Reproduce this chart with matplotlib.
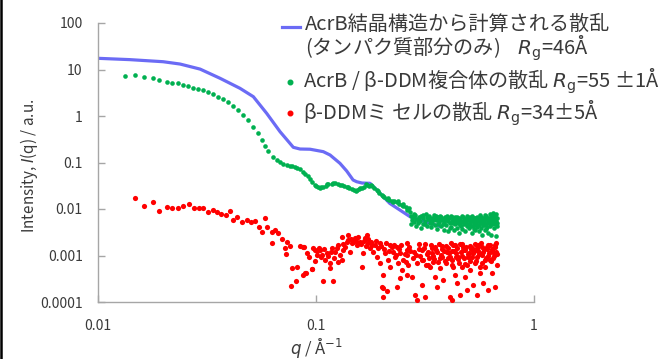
import matplotlib
matplotlib.use("Agg")
import matplotlib.pyplot as plt
from matplotlib.lines import Line2D

plt.rcParams['font.family'] = ['Noto Sans CJK JP', 'DejaVu Sans']
plt.rcParams['mathtext.fontset'] = 'dejavusans'

# ---- data ----
blue_q = [0.0100, 0.0140, 0.0199, 0.0238, 0.0294, 0.0363, 0.0448, 0.0516, 0.0594,
          0.0684, 0.0787, 0.0845, 0.0939, 0.108, 0.116, 0.1288, 0.1383, 0.148,
          0.1537, 0.1626, 0.177, 0.1966, 0.218, 0.270, 0.371]
blue_I = [17.4, 16.3, 14.7, 13.1, 10.2, 6.47, 3.94, 2.60, 1.14,
          0.46, 0.212, 0.195, 0.193, 0.171, 0.145, 0.096, 0.0656, 0.042,
          0.0386, 0.0362, 0.0357, 0.0218, 0.0132, 0.00683, 0.0042]

green_q = [0.0133, 0.0148, 0.0163, 0.0178, 0.0190, 0.0207, 0.0218, 0.0233, 0.0246,
           0.0260, 0.0274, 0.0288, 0.0304, 0.0321, 0.0338, 0.0356, 0.0376, 0.0396,
           0.0418, 0.0440, 0.0464, 0.0489, 0.0516, 0.0544, 0.0564, 0.0583, 0.0604,
           0.0637, 0.0660,
           0.0684, 0.0708, 0.0734, 0.0760, 0.0780, 0.0800, 0.0822, 0.0845, 0.0868,
           0.0890, 0.0915, 0.0939, 0.0962, 0.0989, 0.1005, 0.1024, 0.1050, 0.1080,
           0.1110, 0.1139, 0.1180, 0.1222, 0.1265, 0.1312, 0.1345, 0.1383, 0.1420,
           0.1458, 0.1495, 0.1537, 0.1580, 0.1621, 0.1665, 0.1708, 0.1755, 0.1801,
           0.1850, 0.1899, 0.1950, 0.2002, 0.2055, 0.2110, 0.2165, 0.2225, 0.2285,
           0.2345, 0.2410, 0.2470, 0.2514, 0.2580, 0.2651, 0.2700,
           0.1040, 0.1125, 0.1200, 0.1290, 0.1400, 0.1520, 0.1600, 0.1690, 0.1780,
           0.1920, 0.2030, 0.2140, 0.2250, 0.2380, 0.2500, 0.2620, 0.2680,
           0.272, 0.275, 0.279, 0.282, 0.286, 0.289, 0.293, 0.297, 0.300, 0.304,
           0.308, 0.311, 0.315, 0.319, 0.322, 0.326, 0.330, 0.333, 0.337, 0.341,
           0.344, 0.348, 0.352, 0.355, 0.359, 0.363, 0.366, 0.370, 0.374, 0.377,
           0.381, 0.385, 0.388, 0.392, 0.396, 0.399, 0.403, 0.407, 0.410, 0.414,
           0.418, 0.421, 0.425, 0.429, 0.432, 0.436, 0.440, 0.443, 0.447, 0.451,
           0.454, 0.458, 0.462, 0.465, 0.469, 0.473, 0.476, 0.480, 0.484, 0.487,
           0.491, 0.495, 0.498, 0.502, 0.506, 0.509, 0.513, 0.517, 0.520, 0.524,
           0.528, 0.531, 0.535, 0.539, 0.542, 0.546, 0.550, 0.553, 0.557, 0.561,
           0.564, 0.568, 0.572, 0.575, 0.579, 0.583, 0.586, 0.590, 0.594, 0.597,
           0.601, 0.605, 0.608, 0.612, 0.616, 0.619, 0.623, 0.627, 0.630, 0.634,
           0.638, 0.641, 0.645, 0.649, 0.652, 0.656, 0.660, 0.663, 0.667, 0.671,
           0.674, 0.676,
           0.274, 0.281, 0.288, 0.295, 0.302, 0.310, 0.317, 0.324, 0.332, 0.339,
           0.346, 0.354, 0.361, 0.368, 0.376, 0.383, 0.390, 0.398, 0.405, 0.412,
           0.420, 0.427, 0.434, 0.442, 0.449, 0.456, 0.464, 0.471, 0.478, 0.486,
           0.493, 0.500, 0.508, 0.515, 0.522, 0.530, 0.537, 0.544, 0.552, 0.559,
           0.566, 0.574, 0.581, 0.588, 0.596, 0.603, 0.610, 0.618, 0.625, 0.632,
           0.640, 0.647, 0.654, 0.661, 0.669, 0.675]
green_I = [7.36, 7.43, 7.0, 6.47, 5.94, 5.47, 5.20, 5.10, 4.64,
           4.42, 4.06, 3.81, 3.62, 3.23, 2.93, 2.60, 2.29, 1.97,
           1.67, 1.35, 1.05, 0.820, 0.589, 0.425, 0.305, 0.226, 0.179,
           0.133, 0.115,
           0.101, 0.094, 0.0883, 0.0845, 0.083, 0.0812, 0.077, 0.0714, 0.064,
           0.0566, 0.050, 0.0435, 0.038, 0.0328, 0.031, 0.0293, 0.0290, 0.0302,
           0.032, 0.034, 0.0352, 0.0357, 0.0345, 0.0328, 0.031, 0.0293, 0.028,
           0.0265, 0.026, 0.0256, 0.0265, 0.0279, 0.030, 0.0328, 0.032, 0.0313,
           0.028, 0.0256, 0.0225, 0.0200, 0.018, 0.0164, 0.0156, 0.0149, 0.0146,
           0.0139, 0.0130, 0.0122, 0.0116, 0.0108, 0.0100, 0.0087,
           0.0280, 0.0345, 0.0370, 0.0330, 0.0300, 0.0245, 0.0285, 0.0340, 0.0330,
           0.0240, 0.0190, 0.0170, 0.0140, 0.0145, 0.0125, 0.0095, 0.0105,
           0.0071, 0.0058, 0.0066, 0.0052, 0.0075, 0.0061, 0.0049, 0.0068, 0.0056, 0.0072,
           0.0047, 0.0063, 0.0054, 0.0078, 0.0044, 0.0060, 0.0069, 0.0051, 0.0041, 0.0064,
           0.0057, 0.0073, 0.0046, 0.0059, 0.0038, 0.0066, 0.0052, 0.0070, 0.0043, 0.0057,
           0.0062, 0.0036, 0.0050, 0.0068, 0.0045, 0.0058, 0.0033, 0.0063, 0.0049, 0.0072,
           0.0041, 0.0055, 0.0060, 0.0035, 0.0047, 0.0066, 0.0053, 0.0040, 0.0058, 0.0031,
           0.0064, 0.0045, 0.0052, 0.0069, 0.0038, 0.0056, 0.0048, 0.0062, 0.0034, 0.0051,
           0.0071, 0.0043, 0.0057, 0.0039, 0.0061, 0.0047, 0.0066, 0.0030, 0.0054, 0.0044,
           0.0063, 0.0050, 0.0036, 0.0059, 0.0046, 0.0068, 0.0041, 0.0055, 0.0033, 0.0062,
           0.0049, 0.0074, 0.0040, 0.0057, 0.0028, 0.0052, 0.0065, 0.0045, 0.0035, 0.0060,
           0.0048, 0.0070, 0.0042, 0.0056, 0.0031, 0.0063, 0.0050, 0.0077, 0.0044, 0.0058,
           0.0027, 0.0066, 0.0053, 0.0082, 0.0039, 0.0060, 0.0047, 0.0072, 0.0026, 0.0055,
           0.0064, 0.0043,
           0.0048, 0.0080, 0.0044, 0.0059, 0.0040, 0.0076, 0.0048, 0.0067, 0.0058, 0.0049,
           0.0062, 0.0069, 0.0048, 0.0061, 0.0066, 0.0047, 0.0059, 0.0071, 0.0054, 0.0039,
           0.0066, 0.0051, 0.0057, 0.0068, 0.0049, 0.0060, 0.0043, 0.0066, 0.0054, 0.0062,
           0.0048, 0.0067, 0.0054, 0.0043, 0.0069, 0.0038, 0.0064, 0.0053, 0.0063, 0.0046,
           0.0058, 0.0066, 0.0045, 0.0056, 0.0073, 0.0038, 0.0065, 0.0052, 0.0059, 0.0068,
           0.0047, 0.0061, 0.0070, 0.0056, 0.0078, 0.0050]

red_q = [0.0148, 0.0163, 0.0178, 0.0190, 0.0207, 0.0219, 0.0233, 0.0246, 0.0262,
         0.0276, 0.0291, 0.0302, 0.0321, 0.0336, 0.0350, 0.0366, 0.0387, 0.0403,
         0.0418, 0.0436, 0.0456, 0.0481, 0.0503, 0.0525, 0.0550, 0.0564, 0.0583,
         0.0594, 0.0627, 0.0627, 0.0649, 0.0671, 0.0696, 0.0721, 0.0734, 0.0760,
         0.0727, 0.0774, 0.0821, 0.0768, 0.0809, 0.0869, 0.0900, 0.0956, 0.0845,
         0.0881, 0.0932, 0.0989, 0.0989, 0.1035,
         0.0875, 0.0906, 0.0890, 0.0956, 0.0972, 0.1007, 0.1043, 0.1062, 0.1080,
         0.1100, 0.1120, 0.1160, 0.1160, 0.1180, 0.1193, 0.1222, 0.1266, 0.1266,
         0.1312, 0.1312, 0.1335, 0.1383, 0.1407, 0.1432, 0.1458, 0.1510, 0.1537,
         0.1592, 0.1621, 0.1648, 0.1678, 0.1708, 0.1738, 0.1769, 0.1832, 0.1865,
         0.1899, 0.1966, 0.1966, 0.2002, 0.2036, 0.2124, 0.2073, 0.2146, 0.2185,
         0.2185, 0.2262, 0.2303, 0.2345, 0.2345, 0.2385, 0.2428, 0.2428, 0.2472,
         0.2514, 0.2606, 0.2606,
         0.2023, 0.2036, 0.2606, 0.2651, 0.2748, 0.2846, 0.2897, 0.3054, 0.3106,
         0.3054, 0.3162, 0.3274, 0.3394, 0.3451, 0.3514, 0.3578, 0.3705, 0.3772,
         0.3837, 0.3977, 0.4118, 0.4193, 0.4193, 0.4264, 0.4342, 0.4420, 0.4496,
         0.4577, 0.4659, 0.4739, 0.4825, 0.4912, 0.4996, 0.5086, 0.5178, 0.5267,
         0.5362, 0.5459, 0.5552, 0.5652, 0.5754, 0.5852, 0.5958, 0.6067, 0.6171,
         0.6283, 0.6397, 0.6506, 0.6624, 0.6624, 0.6744,
         0.262, 0.268, 0.279, 0.283, 0.292, 0.296, 0.301, 0.313, 0.318, 0.322,
         0.331, 0.336, 0.341, 0.348, 0.355, 0.362, 0.366, 0.374, 0.380, 0.389,
         0.393, 0.402, 0.408, 0.415, 0.421, 0.428, 0.437, 0.445, 0.452, 0.461,
         0.469, 0.476, 0.484, 0.492, 0.503, 0.511, 0.521, 0.531, 0.542, 0.549,
         0.559, 0.571, 0.579, 0.590, 0.601, 0.612, 0.622, 0.633, 0.645, 0.656,
         0.668, 0.676,
         0.1015, 0.1055, 0.1090, 0.1130, 0.1170, 0.1205, 0.1245, 0.1290, 0.1325,
         0.1365, 0.1395, 0.1445, 0.1480, 0.1525, 0.1565, 0.1605, 0.1660, 0.1695,
         0.1725, 0.1785, 0.1815, 0.1880, 0.1925, 0.1985, 0.2050, 0.2100, 0.2160,
         0.2220, 0.2280, 0.2330, 0.2400, 0.2450, 0.2550,
         0.258, 0.271, 0.287, 0.298, 0.307, 0.316, 0.326, 0.334, 0.344, 0.352,
         0.359, 0.369, 0.377, 0.386, 0.396, 0.405, 0.412, 0.419, 0.425, 0.433,
         0.441, 0.449, 0.457, 0.465, 0.473, 0.481, 0.489, 0.497, 0.507, 0.516,
         0.526, 0.536, 0.545, 0.554, 0.565, 0.575, 0.585, 0.595, 0.606, 0.617,
         0.627, 0.639, 0.650, 0.661, 0.672]
red_I = [0.0175, 0.0118, 0.0139, 0.00919, 0.0112, 0.01035, 0.0104, 0.0118, 0.0128,
         0.0104, 0.0104, 0.0104, 0.00875, 0.00951, 0.00875, 0.0078, 0.00743, 0.00919,
         0.0058, 0.00663, 0.00518, 0.0058, 0.00518, 0.00552, 0.00416, 0.00325, 0.00631,
         0.00416, 0.00325, 0.00183, 0.00353, 0.0030, 0.00226, 0.00147, 0.00198, 0.00163,
         0.00106, 0.000547, 0.000574, 0.000224, 0.000283, 0.000381, 0.000414, 0.000513, 0.00163,
         0.00155, 0.000942, 0.00131, 0.000762, 0.00147,
         0.00155, 0.00111, 0.000414, 0.000505, 0.00143, 0.00103, 0.00131, 0.00103, 0.000287,
         0.0008, 0.00111, 0.000679, 0.000531, 0.00143, 0.000287, 0.00121, 0.00168, 0.000736,
         0.0008, 0.00254, 0.00131, 0.00198, 0.00276, 0.00121, 0.00183, 0.00234, 0.00168,
         0.00198, 0.000557, 0.00111, 0.00234, 0.00276, 0.00183, 0.00143, 0.00121, 0.00168,
         0.000942, 0.00183, 0.000679, 0.000213, 0.00013, 0.000175, 0.00111, 0.0008, 0.00168,
         0.000574, 0.00121, 0.000942, 0.00155, 0.000213, 0.000679, 0.00111, 0.000324, 0.000488,
         0.0008, 0.00131, 0.000381,
         0.000381, 0.000197, 0.00183, 0.000625, 0.00035, 0.000142, 0.00011, 0.00131, 0.0008,
         0.000232, 0.00013, 0.000625, 0.00143, 0.000736, 0.00035, 0.000213, 0.000531, 0.000942,
         0.000297, 0.00121, 0.00013, 0.00011, 0.000625, 0.00168, 0.000381, 0.000252, 0.000942,
         0.000142, 0.000574, 0.00155, 0.00035, 0.000181, 0.000942, 0.000488, 0.00143, 0.000232,
         0.000679, 0.000142, 0.00168, 0.000414, 0.00103, 0.000252, 0.000574, 0.00155, 0.000181,
         0.0008, 0.000414, 0.00121, 0.000213, 0.00168, 0.000625,
         0.00105, 0.00155, 0.00088, 0.0012, 0.00068, 0.00175, 0.00098, 0.00145, 0.00062, 0.0011,
         0.0009, 0.00165, 0.00115, 0.00085, 0.0013, 0.00072, 0.0018, 0.00105, 0.00135, 0.00078,
         0.0016, 0.0009, 0.00115, 0.00185, 0.00082, 0.00125, 0.00095, 0.00145, 0.00068, 0.0012,
         0.00175, 0.00088, 0.0013, 0.00062, 0.00115, 0.0016, 0.00095, 0.00125, 0.00078, 0.00145,
         0.0011, 0.00185, 0.0007, 0.00135, 0.0009, 0.00165, 0.00115, 0.00075, 0.0014, 0.00098,
         0.00185, 0.0011,
         0.00125, 0.00092, 0.00135, 0.00098, 0.00118, 0.00088, 0.00145, 0.00105, 0.00175,
         0.00155, 0.00215, 0.00225, 0.00195, 0.00205, 0.00245, 0.00178, 0.00205, 0.00158,
         0.00225, 0.00195, 0.00165, 0.00205, 0.00145, 0.00162, 0.00138, 0.00185, 0.00128,
         0.00152, 0.00172, 0.00105, 0.00135, 0.00165, 0.00108,
         0.00072, 0.00125, 0.00102, 0.00135, 0.00082, 0.00175, 0.00118, 0.00058, 0.00098, 0.00152,
         0.00118, 0.00088, 0.00162, 0.00125, 0.00068, 0.00148, 0.00095, 0.00128, 0.00058, 0.00168,
         0.00112, 0.00085, 0.00178, 0.00098, 0.00132, 0.00065, 0.00152, 0.00108, 0.00078, 0.00138,
         0.00112, 0.00178, 0.00092, 0.00128, 0.00058, 0.00152, 0.00118, 0.00082, 0.00138, 0.00098,
         0.00172, 0.00125, 0.00088, 0.00155, 0.00118]

x_ticks = [0.01, 0.1, 1]
x_ticklabels = ['0.01', '0.1', '1']
y_ticks = [0.0001, 0.001, 0.01, 0.1, 1, 10, 100]
y_ticklabels = ['0.0001', '0.001', '0.01', '0.1', '1', '10', '100']

legend_texts = [
    'AcrB結晶構造から計算される散乱',
    '(タンパク質部分のみ)    $R_\\mathrm{g}$=46Å',
    'AcrB / β-DDM複合体の散乱 $R_\\mathrm{g}$=55 ±1Å',
    'β-DDMミ セルの散乱 $R_\\mathrm{g}$=34±5Å',
]

BLUE = '#6B6BF5'
GREEN = '#00B050'
RED = '#FF0000'
TXT = '#3A3A3A'
AXC = '#A6A6A6'

W, H = 668, 359
fig = plt.figure(figsize=(W / 100, H / 100), dpi=100)
ax = fig.add_axes([98 / W, 1 - 302 / H, (534 - 98) / W, (302 - 23) / H])

ax.plot(blue_q, blue_I, color=BLUE, lw=2.3, solid_capstyle='round', zorder=2)
ax.scatter(green_q, green_I, s=11, color=GREEN, linewidths=0, zorder=3)
ax.scatter(red_q, red_I, s=14, color=RED, linewidths=0, zorder=4)

ax.set_xscale('log')
ax.set_yscale('log')
ax.set_xlim(0.01, 1)
ax.set_ylim(0.0001, 100)
ax.set_xticks(x_ticks)
ax.set_xticklabels(x_ticklabels)
ax.set_yticks(y_ticks)
ax.set_yticklabels(y_ticklabels)
ax.minorticks_off()
for s in ['top', 'right']:
    ax.spines[s].set_visible(False)
for s in ['left', 'bottom']:
    ax.spines[s].set_color(AXC)
    ax.spines[s].set_linewidth(1.0)
ax.tick_params(axis='both', direction='in', length=5, width=1, color=AXC,
               labelcolor=TXT, labelsize=10)
ax.tick_params(axis='x', pad=12)
ax.tick_params(axis='y', pad=11)

fig.text(29 / W, 1 - 166 / H, 'Intensity, $I$(q) / a.u.', rotation=90,
         ha='center', va='center', fontsize=11, color=TXT)
fig.text(316 / W, 1 - 348 / H, '$q$ / Å$^{-1}$', ha='center', va='center',
         fontsize=12, color=TXT)

# legend drawn by hand
fig.add_artist(Line2D([282 / W, 300 / W], [1 - 27 / H, 1 - 27 / H], color=BLUE, lw=2.3,
                      transform=fig.transFigure))
fig.add_artist(Line2D([290 / W], [1 - 81.7 / H], marker='o', ms=3.3, color=GREEN, lw=0,
                      transform=fig.transFigure))
fig.add_artist(Line2D([290 / W], [1 - 113.3 / H], marker='o', ms=3.3, color=RED, lw=0,
                      transform=fig.transFigure))
LFS = 14.5
fig.text(305 / W, 1 - 29.5 / H, legend_texts[0], ha='left', va='baseline', fontsize=LFS, color=TXT)
fig.text(305 / W, 1 - 55 / H, legend_texts[1], ha='left', va='baseline', fontsize=LFS, color=TXT)
fig.text(303 / W, 1 - 87.5 / H, legend_texts[2], ha='left', va='baseline', fontsize=LFS, color=TXT)
fig.text(303 / W, 1 - 119.5 / H, legend_texts[3], ha='left', va='baseline', fontsize=LFS, color=TXT)

# left frame edge
fig.add_artist(Line2D([1.2 / W, 1.2 / W], [0, 1], color='black', lw=1.8, transform=fig.transFigure))

fig.savefig('out.png', dpi=100)
